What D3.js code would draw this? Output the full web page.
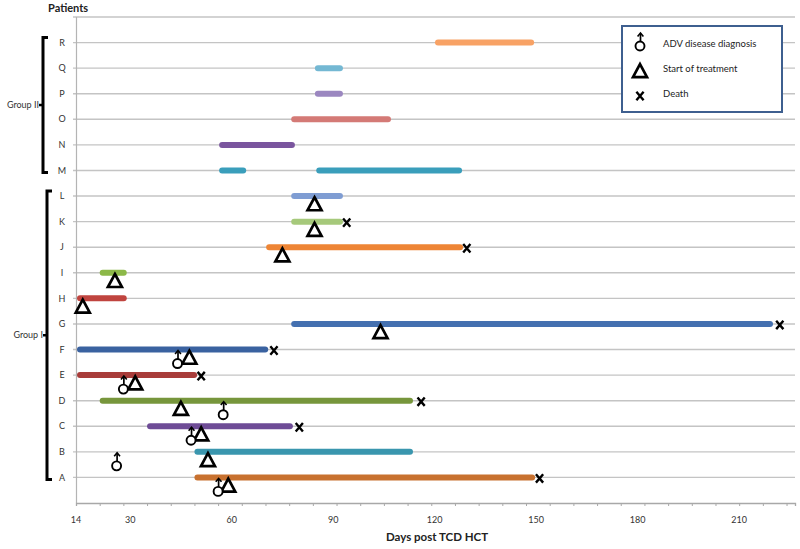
<!DOCTYPE html>
<html><head><meta charset="utf-8">
<script src="https://cdn.jsdelivr.net/npm/d3@7"></script>
<style>body{margin:0;background:#fff}svg{display:block;font-family:Lato,'Open Sans',sans-serif}</style>
</head><body><svg id="c" width="800" height="549"></svg>
<script>
const patients = ['A','B','C','D','E','F','G','H','I','J','K','L','M','N','O','P','Q','R'];
const patientColors = ['#C8712F','#3A96AE','#6E4C96','#77963C','#A83C3A','#3A62A0','#4470B0','#C0443F','#8CB848','#EE8535','#A6C97B','#7F9DD3','#3A9EBB','#7A559E','#D47A76','#9B87C0','#74B8D3','#F8A265'];
const segPatient = ['A','B','C','D','E','F','G','H','I','J','K','L','M','M','N','O','P','Q','R'];
const segStart = [49,49,35,21,14.3,14.3,77.6,14.3,21,70.2,77.6,77.6,56.3,85,56.3,77.6,84.6,84.6,120.1];
const segEnd = [149.7,113.6,78.1,113.6,49.8,70.8,220,29,29,128.4,92.9,92.9,64.3,128.1,78.7,107.1,92.9,92.9,149.4];
const diagPatient = ['A','B','C','D','E','F'];
const diagDay = [56,26,48,57.5,28,44];
const treatPatient = ['A','B','C','D','E','F','G','H','I','J','K','L'];
const treatDay = [59,53,51,45,31.5,47.5,104,16,25.5,75,84.5,84.5];
const deathPatient = ['A','C','D','E','F','G','J','K'];
const deathDay = [151,80,116,51,72.5,222,129.5,94];
const xTickLabels = [14,30,60,90,120,150,180,210];
const groupNames = ['Group I','Group II'];
const groupFrom = ['A','M'];
const groupTo = ['L','R'];
const legendLabels = ['ADV disease diagnosis','Start of treatment','Death'];

const svg = d3.select('#c');
const x = d3.scaleLinear().domain([14, 226.5]).range([76, 795]);
const y = d3.scaleLinear().domain([0, 19]).range([503, 17]);
const rowY = p => y(patients.indexOf(p) + 1);
const colorOf = p => patientColors[patients.indexOf(p)];

// gridlines
const rowsAll = d3.range(1, 20);
svg.append('g').selectAll('line').data(rowsAll).join('line')
  .attr('x1', 73).attr('x2', 795)
  .attr('y1', d => y(d)).attr('y2', d => y(d))
  .attr('stroke', '#c4c4c4').attr('stroke-width', 1.4);

// y axis line
svg.append('line').attr('x1', 76.5).attr('x2', 76.5).attr('y1', y(19)).attr('y2', y(0))
  .attr('stroke', '#b4b4b4').attr('stroke-width', 1.2);

// x axis
const xAxis = d3.axisBottom(x).tickValues(d3.range(14, 226, 7)).tickSize(3).tickFormat('');
const gx = svg.append('g').attr('transform', `translate(0,${y(0)})`).call(xAxis);
gx.select('.domain').attr('stroke', '#a8a8a8').attr('stroke-width', 1.3);
gx.selectAll('.tick line').attr('stroke', '#a8a8a8');
svg.append('g').selectAll('text').data(xTickLabels).join('text')
  .attr('x', d => x(d)).attr('y', 523).attr('text-anchor', 'middle')
  .attr('font-size', 9).attr('fill', '#333').text(d => d);

svg.append('text').attr('x', 437).attr('y', 541).attr('text-anchor', 'middle')
  .attr('font-size', 11.5).attr('font-weight', 'bold').attr('fill', '#222').text('Days post TCD HCT');

// row labels
svg.append('g').selectAll('text').data(patients).join('text')
  .attr('x', 62).attr('y', d => rowY(d)).attr('dy', '0.35em').attr('text-anchor', 'middle')
  .attr('font-size', 9).attr('fill', '#333').text(d => d);

svg.append('text').attr('x', 48).attr('y', 12).attr('font-size', 11).attr('font-weight', 'bold')
  .attr('fill', '#222').text('Patients');

// group brackets
groupNames.forEach((g, i) => {
  const bx = i === 0 ? 47 : 43;
  const top = rowY(groupTo[i]) - 5, bot = rowY(groupFrom[i]) + 2, mid = (top + bot) / 2;
  svg.append('path').attr('d', `M${bx + 5},${top}H${bx}V${bot}H${bx + 5}`)
    .attr('fill', 'none').attr('stroke', '#000').attr('stroke-width', 3);
  svg.append('line').attr('x1', bx).attr('x2', bx - 4).attr('y1', mid).attr('y2', mid)
    .attr('stroke', '#000').attr('stroke-width', 2.5);
  svg.append('text').attr('x', bx - 4).attr('y', mid).attr('dy', '0.35em').attr('text-anchor', 'end')
    .attr('font-size', 9).attr('fill', '#333').text(g);
});

// bars
svg.append('g').selectAll('line').data(segPatient.map((p, i) => ({p, s: segStart[i], e: segEnd[i]}))).join('line')
  .attr('x1', d => x(d.s) + 3).attr('x2', d => x(d.e) - 3)
  .attr('y1', d => rowY(d.p)).attr('y2', d => rowY(d.p))
  .attr('stroke', d => colorOf(d.p)).attr('stroke-width', 6).attr('stroke-linecap', 'round');

// marker shapes
function drawMale(g) {
  g.append('circle').attr('r', 4.5).attr('fill', '#fff').attr('stroke', '#000').attr('stroke-width', 1.9);
  g.append('line').attr('x1', 0.5).attr('x2', 0.5).attr('y1', -4.5).attr('y2', -12.5)
    .attr('stroke', '#000').attr('stroke-width', 1.7);
  g.append('path').attr('d', 'M-2.4,-9.6L0.5,-13L3.4,-9.6').attr('fill', 'none')
    .attr('stroke', '#000').attr('stroke-width', 1.6);
}
function drawTri(g) {
  g.append('path').attr('d', 'M0,-6.8L7,6.2L-7,6.2Z').attr('fill', '#fff')
    .attr('stroke', '#000').attr('stroke-width', 2.7).attr('stroke-linejoin', 'miter');
}
function drawX(g) {
  g.append('path').attr('d', 'M-3.6,-4.2L3.6,4.2M3.6,-4.2L-3.6,4.2')
    .attr('stroke', '#000').attr('stroke-width', 2.4).attr('fill', 'none');
}

treatPatient.forEach((p, i) => {
  drawTri(svg.append('g').attr('transform', `translate(${x(treatDay[i])},${rowY(p) + 8})`));
});
diagPatient.forEach((p, i) => {
  drawMale(svg.append('g').attr('transform', `translate(${x(diagDay[i])},${rowY(p) + 14})`));
});
deathPatient.forEach((p, i) => {
  drawX(svg.append('g').attr('transform', `translate(${x(deathDay[i])},${rowY(p) + 1})`));
});

// legend
const lg = svg.append('g');
lg.append('rect').attr('x', 622).attr('y', 26).attr('width', 160).attr('height', 86)
  .attr('fill', '#fff').attr('stroke', '#3E5F8F').attr('stroke-width', 2);
const legendDraw = [drawMale, drawTri, drawX];
const legendY = [46, 71, 96];
legendLabels.forEach((t, i) => {
  legendDraw[i](lg.append('g').attr('transform', `translate(640,${legendY[i]})`));
  lg.append('text').attr('x', 663).attr('y', legendY[i] - 2).attr('dy', '0.35em')
    .attr('font-size', 9.5).attr('fill', '#222').text(t);
});
</script></body></html>
